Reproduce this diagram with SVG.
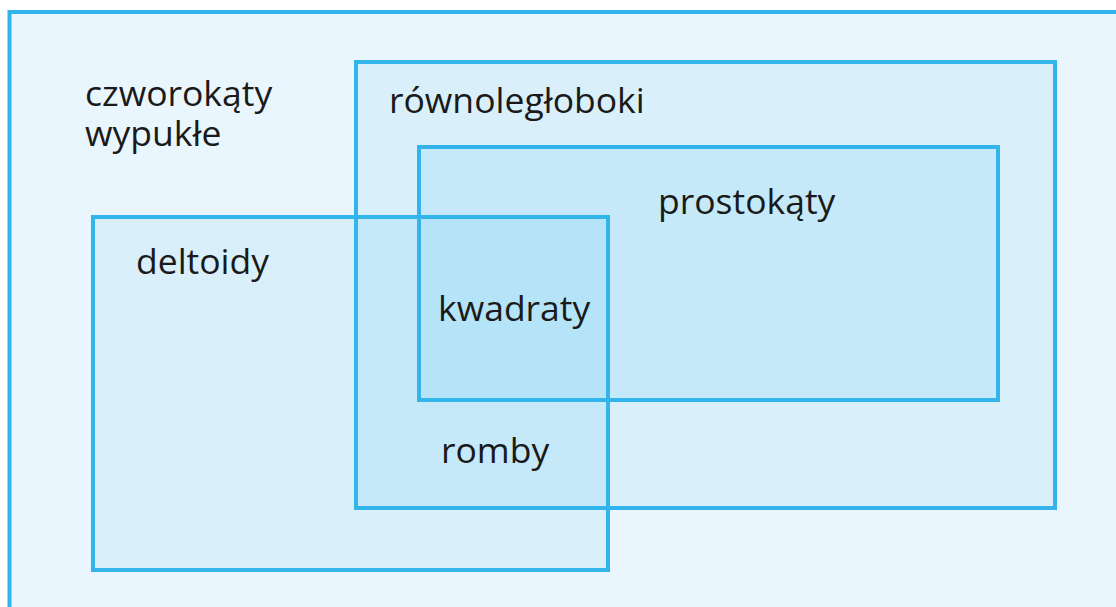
<svg xmlns="http://www.w3.org/2000/svg" width="1116" height="607" viewBox="0 0 1116 607">
  <style>
    .frame { fill: none; stroke: #33b5ec; stroke-width: 4; }
    .lbl { font-family: "Open Sans", "Noto Sans", sans-serif; font-size: 35.5px; fill: #1a1a1a; }
  </style>
  <rect x="0" y="0" width="1116" height="607" fill="#ffffff"/>

  <!-- region fills, layered from the outside in -->
  <g id="fills">
    <rect x="9.5" y="12" width="1120" height="610" fill="#eaf6fd"/>
    <rect x="356" y="62" width="699" height="446" fill="#d9f0fb"/>
    <rect x="93" y="217" width="515" height="353" fill="#d9f0fb"/>
    <rect x="419" y="147" width="579" height="253" fill="#c5e9f8"/>
    <rect x="356" y="217" width="252" height="291" fill="#c5e9f8"/>
    <rect x="419" y="217" width="189" height="183" fill="#b5e4f8"/>
  </g>

  <g id="czworokaty-wypukle">
    <rect class="frame" x="9.5" y="12" width="1120" height="610"/>
    <text class="lbl" x="85" y="106">czworokąty</text>
    <text class="lbl" x="85" y="146">wypukłe</text>
  </g>
  <g id="rownolegloboki">
    <rect class="frame" x="356" y="62" width="699" height="446"/>
    <text class="lbl" x="389" y="113">równoległoboki</text>
  </g>
  <g id="prostokaty">
    <rect class="frame" x="419" y="147" width="579" height="253"/>
    <text class="lbl" x="658" y="214">prostokąty</text>
  </g>
  <g id="deltoidy">
    <rect class="frame" x="93" y="217" width="515" height="353"/>
    <text class="lbl" x="136" y="274">deltoidy</text>
  </g>
  <g id="kwadraty">
    <text class="lbl" x="438" y="321">kwadraty</text>
  </g>
  <g id="romby">
    <text class="lbl" x="441" y="463">romby</text>
  </g>
  <g id="connectors"/>
</svg>
